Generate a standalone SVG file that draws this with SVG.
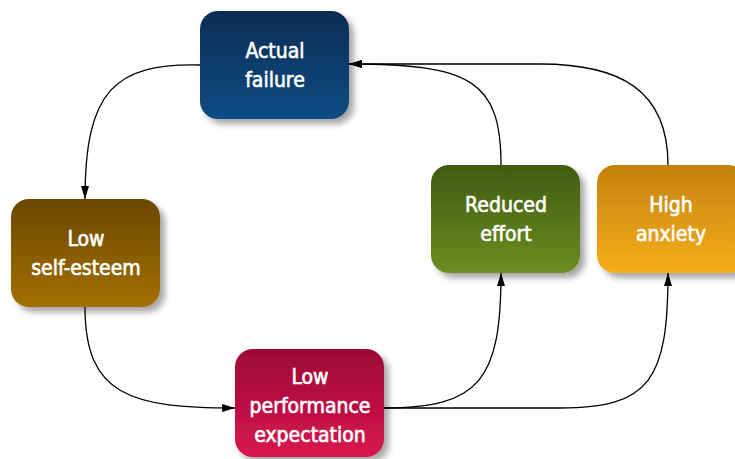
<svg xmlns="http://www.w3.org/2000/svg" width="735" height="459" viewBox="0 0 735 459">
  <defs>
    <linearGradient id="gBlue" x1="0" y1="0" x2="0" y2="1">
      <stop offset="0" stop-color="#0b2c53"/>
      <stop offset="1" stop-color="#0a4c83"/>
    </linearGradient>
    <linearGradient id="gBrown" x1="0" y1="0" x2="0" y2="1">
      <stop offset="0" stop-color="#6b4700"/>
      <stop offset="1" stop-color="#a37000"/>
    </linearGradient>
    <linearGradient id="gRed" x1="0" y1="0" x2="0" y2="1">
      <stop offset="0" stop-color="#9c0636"/>
      <stop offset="1" stop-color="#d8174f"/>
    </linearGradient>
    <linearGradient id="gGreen" x1="0" y1="0" x2="0" y2="1">
      <stop offset="0" stop-color="#3f5b10"/>
      <stop offset="1" stop-color="#6c8d22"/>
    </linearGradient>
    <linearGradient id="gOrange" x1="0" y1="0" x2="0" y2="1">
      <stop offset="0" stop-color="#c3810f"/>
      <stop offset="1" stop-color="#f6ae1a"/>
    </linearGradient>
    <filter id="shadow" x="-10%" y="-10%" width="130%" height="130%">
      <feGaussianBlur in="SourceAlpha" stdDeviation="3"/>
      <feOffset dx="5" dy="5" result="b"/>
      <feComponentTransfer><feFuncA type="linear" slope="0.35"/></feComponentTransfer>
      <feMerge><feMergeNode/><feMergeNode in="SourceGraphic"/></feMerge>
    </filter>
    <marker id="arrow" viewBox="0 0 13 8" refX="13" refY="4" markerWidth="13" markerHeight="8" markerUnits="userSpaceOnUse" orient="auto">
      <path d="M0,0 L13,4 L0,8 Z" fill="#000"/>
    </marker>
  </defs>
  <style>
    .box { filter: url(#shadow); }
    .lbl { font-family: "DejaVu Sans Condensed", "Liberation Sans", sans-serif; font-stretch: condensed; font-size: 21px; fill: #ffffff; stroke: #ffffff; stroke-width: 0.6; text-anchor: middle; }
    .edge { fill: none; stroke: #000; stroke-width: 1.3; }
  </style>
  <rect width="735" height="459" fill="#ffffff"/>

  <g id="connectors">
    <path class="edge" d="M200,65 C115,63 85,90 85,199" marker-end="url(#arrow)"/>
    <path class="edge" d="M85,307 C85,395 130,408 235,408" marker-end="url(#arrow)"/>
    <path class="edge" d="M384,408 C480,408 501,380 501,273" marker-end="url(#arrow)"/>
    <path class="edge" d="M384,408 L560,408 C650,408 668,380 668,273" marker-end="url(#arrow)"/>
    <path class="edge" d="M501,165 C501,80 470,64 349,64" marker-end="url(#arrow)"/>
    <path class="edge" d="M668,165 C668,90 620,64 540,64 L349,64" marker-end="url(#arrow)"/>
  </g>

  <g id="actual-failure">
    <rect class="box" x="200" y="11" width="149" height="108" rx="18" fill="url(#gBlue)"/>
    <text class="lbl" x="275" y="58">Actual</text>
    <text class="lbl" x="275" y="87">failure</text>
  </g>
  <g id="low-self-esteem">
    <rect class="box" x="11" y="199" width="149" height="108" rx="18" fill="url(#gBrown)"/>
    <text class="lbl" x="86" y="246">Low</text>
    <text class="lbl" x="86" y="275">self-esteem</text>
  </g>
  <g id="low-performance-expectation">
    <rect class="box" x="235" y="349" width="149" height="108" rx="18" fill="url(#gRed)"/>
    <text class="lbl" x="310" y="384">Low</text>
    <text class="lbl" x="310" y="413">performance</text>
    <text class="lbl" x="310" y="442">expectation</text>
  </g>
  <g id="reduced-effort">
    <rect class="box" x="431" y="165" width="149" height="108" rx="18" fill="url(#gGreen)"/>
    <text class="lbl" x="506" y="212">Reduced</text>
    <text class="lbl" x="506" y="241">effort</text>
  </g>
  <g id="high-anxiety">
    <rect class="box" x="597" y="165" width="149" height="108" rx="18" fill="url(#gOrange)"/>
    <text class="lbl" x="671" y="212">High</text>
    <text class="lbl" x="671" y="241">anxiety</text>
  </g>
</svg>
